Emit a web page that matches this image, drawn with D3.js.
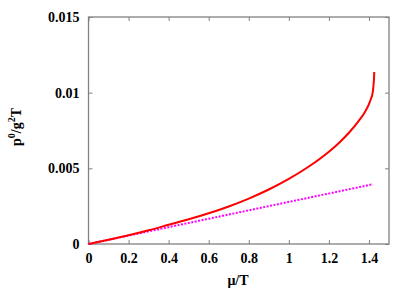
<!DOCTYPE html>
<html>
<head>
<meta charset="utf-8">
<script src="https://cdn.jsdelivr.net/npm/d3@7"></script>
<style>
  body { margin: 0; background: #fff; }
  .tick text, .lbl { font-family: "Liberation Serif", "DejaVu Serif", serif; font-weight: bold; }
</style>
</head>
<body>
<div id="chart"></div>
<script>
// values
var muFull = [0, 0.1, 0.2, 0.3, 0.4, 0.5, 0.6, 0.7, 0.8, 0.9, 1.0, 1.1, 1.2, 1.25, 1.3, 1.35, 1.38, 1.40, 1.41, 1.4185, 1.422, 1.425, 1.4265];
var pFull  = [0, 0.00028, 0.00058, 0.00091, 0.00127, 0.00163, 0.00203, 0.00248, 0.00300, 0.00360, 0.00430, 0.00512, 0.00610, 0.00668, 0.00735, 0.00815, 0.00873, 0.00925, 0.00960, 0.0100, 0.0104, 0.0109, 0.01137];
var muLin = [0, 1.42];
var pLin  = [0, 0.00395];
var xTicks = [0, 0.2, 0.4, 0.6, 0.8, 1, 1.2, 1.4];
var yTicks = [0, 0.005, 0.01, 0.015];

var width = 415, height = 291;
// plot box (note: "top" is reserved on window, so use p-prefixed names)
var pLeft = 88.5, pRight = 389, pTop = 17, pBottom = 244;

var svg = d3.select("#chart").append("svg")
    .attr("width", width)
    .attr("height", height);

var x = d3.scaleLinear().domain([0, 1.5]).range([pLeft, pRight]);
var y = d3.scaleLinear().domain([0, 0.015]).range([pBottom, pTop]);

var fmtY = function(d) { return d === 0 ? "0" : String(d); };

// axes, ticks pointing inward like gnuplot
function styleAxis(g) {
    g.select(".domain").remove();
    g.selectAll(".tick line").attr("stroke", "#808080").attr("stroke-width", 1);
    g.selectAll(".tick text").attr("fill", "#000").attr("font-size", 14);
}

svg.append("g")
    .attr("transform", "translate(0," + pBottom + ")")
    .call(d3.axisBottom(x).tickValues(xTicks).tickSizeInner(-4).tickSizeOuter(0).tickPadding(9).tickFormat(d3.format("")))
    .call(styleAxis);

svg.append("g")
    .attr("transform", "translate(0," + pTop + ")")
    .call(d3.axisTop(x).tickValues(xTicks).tickSizeInner(-4).tickSizeOuter(0).tickFormat(""))
    .call(styleAxis);

svg.append("g")
    .attr("transform", "translate(" + pLeft + ",0)")
    .call(d3.axisLeft(y).tickValues(yTicks).tickSizeInner(-4).tickSizeOuter(0).tickPadding(9).tickFormat(fmtY))
    .call(styleAxis);

svg.append("g")
    .attr("transform", "translate(" + pRight + ",0)")
    .call(d3.axisRight(y).tickValues(yTicks).tickSizeInner(-4).tickSizeOuter(0).tickFormat(""))
    .call(styleAxis);

// frame
svg.append("rect")
    .attr("x", pLeft).attr("y", pTop)
    .attr("width", pRight - pLeft).attr("height", pBottom - pTop)
    .attr("fill", "none")
    .attr("stroke", "#808080")
    .attr("stroke-width", 1.3);

var line = d3.line()
    .x(function(d) { return x(d[0]); })
    .y(function(d) { return y(d[1]); })
    .curve(d3.curveMonotoneX);

svg.append("path")
    .datum(d3.zip(muLin, pLin))
    .attr("d", line)
    .attr("fill", "none")
    .attr("stroke", "#ff00ff")
    .attr("stroke-width", 2)
    .attr("stroke-dasharray", "2,1.5");

svg.append("path")
    .datum(d3.zip(muFull, pFull))
    .attr("d", line)
    .attr("fill", "none")
    .attr("stroke", "#ff0000")
    .attr("stroke-width", 2);

// axis titles
svg.append("text")
    .attr("class", "lbl")
    .attr("x", 238).attr("y", 285)
    .attr("text-anchor", "middle")
    .attr("font-size", 14)
    .text("\u03bc/T");

var yl = svg.append("text")
    .attr("class", "lbl")
    .attr("transform", "translate(21,127) rotate(-90)")
    .attr("text-anchor", "middle")
    .attr("font-size", 14);
yl.append("tspan").text("p");
yl.append("tspan").attr("dy", -6).attr("font-size", 10).text("0");
yl.append("tspan").attr("dy", 6).text("/g");
yl.append("tspan").attr("dy", -6).attr("font-size", 10).text("2");
yl.append("tspan").attr("dy", 6).text("T");
</script>
</body>
</html>
